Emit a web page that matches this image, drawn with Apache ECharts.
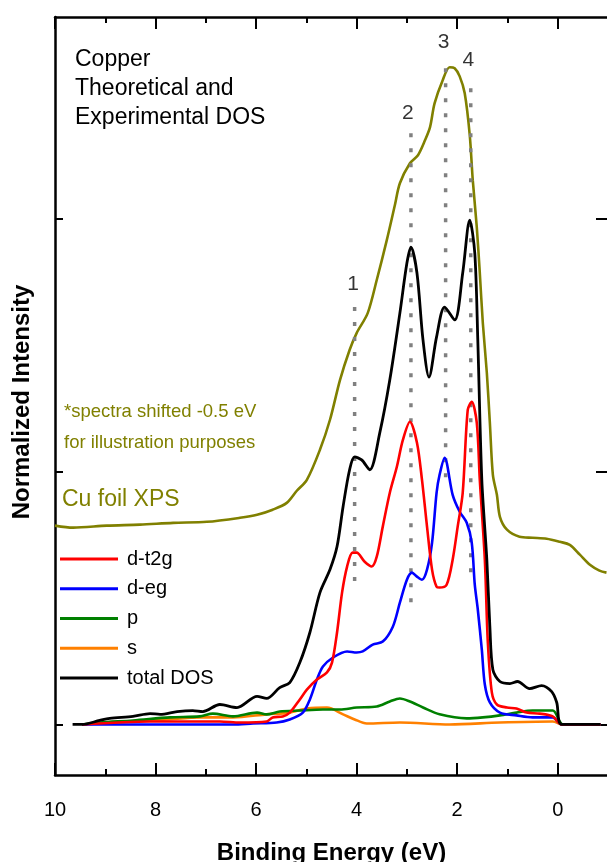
<!DOCTYPE html>
<html>
<head>
<meta charset="utf-8">
<script src="https://cdn.jsdelivr.net/npm/echarts@6/dist/echarts.min.js"></script>
<style>
  html, body { margin: 0; padding: 0; background: #fff; }
  #chart { width: 607px; height: 862px; }
</style>
</head>
<body>
<div id="chart"></div>
<script>
// binding energy (eV) / normalized intensity pairs
const totalDos = [
  [9.65, 0], [9.46, 0], [9.11, 0.016], [8.91, 0.024], [8.45, 0.032], [8.11, 0.043], [7.91, 0.040],
  [7.57, 0.051], [7.26, 0.055], [7.06, 0.051], [6.72, 0.079], [6.38, 0.067], [5.98, 0.111],
  [5.79, 0.103], [5.53, 0.146], [5.33, 0.166], [5.13, 0.245], [4.93, 0.364], [4.73, 0.522],
  [4.53, 0.613], [4.39, 0.704], [4.27, 0.862], [4.14, 1.008], [4.04, 1.059], [3.90, 1.047],
  [3.74, 1.008], [3.54, 1.154], [3.34, 1.364], [3.14, 1.628], [3.00, 1.826], [2.92, 1.889],
  [2.80, 1.787], [2.68, 1.522], [2.56, 1.375], [2.41, 1.534], [2.25, 1.652], [2.05, 1.601],
  [1.89, 1.787], [1.75, 1.996], [1.65, 1.866], [1.59, 1.522], [1.51, 0.968], [1.41, 0.652],
  [1.35, 0.387], [1.29, 0.217], [1.15, 0.170], [0.95, 0.162], [0.80, 0.170], [0.56, 0.142],
  [0.32, 0.154], [0.12, 0.130], [0.02, 0.087], [-0.08, 0], [-0.85, 0]
]
const dT2g = [
  [9.46, 0], [8.11, 0.012], [6.72, 0.012], [6.32, 0.008], [5.79, 0.012], [5.67, 0.028],
  [5.47, 0.032], [5.33, 0.047], [5.13, 0.099], [4.99, 0.138], [4.79, 0.178], [4.59, 0.206],
  [4.49, 0.245], [4.39, 0.364], [4.29, 0.522], [4.19, 0.625], [4.08, 0.680], [4.00, 0.680],
  [3.84, 0.644], [3.70, 0.625], [3.60, 0.664], [3.48, 0.783], [3.34, 0.917], [3.20, 1.020],
  [3.08, 1.126], [2.94, 1.198], [2.80, 1.115], [2.70, 0.968], [2.60, 0.783], [2.50, 0.613],
  [2.41, 0.545], [2.35, 0.542], [2.21, 0.553], [2.09, 0.652], [1.99, 0.783], [1.89, 0.917],
  [1.79, 1.245], [1.71, 1.277], [1.61, 1.194], [1.55, 0.968], [1.45, 0.652], [1.39, 0.324],
  [1.31, 0.126], [1.21, 0.079], [1.01, 0.067], [0.82, 0.063], [0.62, 0.047], [0.36, 0.043],
  [0.10, 0.032], [-0.08, 0], [-0.85, 0]
]
const dEg = [
  [9.46, 0], [6.46, 0], [6.06, 0.004], [5.59, 0.008], [5.33, 0.020], [5.07, 0.047], [4.93, 0.099],
  [4.79, 0.178], [4.67, 0.229], [4.47, 0.265], [4.19, 0.289], [4.00, 0.285], [3.88, 0.289],
  [3.68, 0.316], [3.48, 0.328], [3.28, 0.387], [3.14, 0.482], [3.00, 0.573], [2.90, 0.601],
  [2.80, 0.585], [2.70, 0.573], [2.60, 0.613], [2.50, 0.719], [2.41, 0.917], [2.35, 0.988],
  [2.25, 1.055], [2.09, 0.909], [1.95, 0.842], [1.81, 0.798], [1.71, 0.719], [1.65, 0.553],
  [1.59, 0.455], [1.51, 0.296], [1.45, 0.158], [1.35, 0.087], [1.15, 0.047], [0.82, 0.036],
  [0.50, 0.028], [0.10, 0.028], [-0.08, 0], [-0.85, 0]
]
const pDos = [
  [9.46, 0], [9.11, 0.008], [8.45, 0.016], [7.71, 0.028], [7.12, 0.032], [6.86, 0.043],
  [6.46, 0.032], [5.98, 0.047], [5.79, 0.040], [5.53, 0.051], [5.13, 0.055], [4.67, 0.059],
  [4.33, 0.059], [4.00, 0.067], [3.60, 0.071], [3.34, 0.091], [3.14, 0.103], [2.94, 0.091],
  [2.68, 0.067], [2.35, 0.040], [1.81, 0.024], [1.49, 0.028], [1.15, 0.036], [0.82, 0.047],
  [0.50, 0.055], [0.10, 0.055], [-0.04, 0.012], [-0.10, 0], [-0.85, 0]
]
const sDos = [
  [9.46, 0], [8.45, 0.012], [7.77, 0.020], [7.12, 0.028], [6.46, 0.028], [5.79, 0.040],
  [5.33, 0.047], [4.99, 0.063], [4.59, 0.067], [4.27, 0.040], [4.04, 0.020], [3.80, 0.004],
  [3.14, 0.008], [2.15, 0], [1.15, 0.008], [0.10, 0.012], [-0.10, 0], [-0.85, 0]
]
const cuFoilXps = [
  [10.0, 0.787], [9.64, 0.779], [8.97, 0.787], [8.31, 0.791], [7.65, 0.798], [6.98, 0.802],
  [6.32, 0.818], [5.98, 0.830], [5.67, 0.850], [5.39, 0.877], [5.19, 0.925], [4.99, 0.968],
  [4.73, 1.087], [4.53, 1.206], [4.33, 1.364], [4.14, 1.482], [4.00, 1.549], [3.78, 1.628],
  [3.60, 1.759], [3.40, 1.917], [3.24, 2.055], [3.14, 2.142], [2.94, 2.221], [2.78, 2.253],
  [2.64, 2.312], [2.54, 2.364], [2.45, 2.458], [2.29, 2.549], [2.15, 2.601], [2.05, 2.597],
  [1.95, 2.565], [1.85, 2.498], [1.75, 2.332], [1.69, 2.154], [1.61, 1.968], [1.55, 1.787],
  [1.49, 1.589], [1.41, 1.391], [1.35, 1.194], [1.29, 0.988], [1.21, 0.909], [1.15, 0.822],
  [1.01, 0.771], [0.76, 0.743], [0.50, 0.739], [0.22, 0.735], [-0.04, 0.723], [-0.24, 0.711],
  [-0.44, 0.672], [-0.64, 0.632], [-0.83, 0.609], [-0.97, 0.601]
]

// dotted peak markers 1..4
const peakNames = ['1', '2', '3', '4']
const peakX = [4.04, 2.92, 2.23, 1.73]
const peakTop = [1.652, 2.34, 2.597, 2.518]
const peakBottom = [0.561, 0.466, 0.968, 0.585]
const peakLabelX = [4.07, 2.98, 2.27, 1.78]
const peakLabelY = [1.743, 2.419, 2.700, 2.628]

const majorTicks = [0, 2, 4, 6, 8, 10]
const minorTicks = [1, 3, 5, 7, 9]
const yTicks = [0, 1, 2]

const FONT = '"Liberation Sans", Arial, sans-serif'
const chart = echarts.init(document.getElementById('chart'))

function xAx (pos, ticks, len, main) {
  return {
    type: 'value',
    position: pos,
    inverse: true,
    min: -1,
    max: 10,
    name: main && pos === 'bottom' ? 'Binding Energy (eV)' : '',
    nameLocation: 'middle',
    nameGap: 66,
    nameTextStyle: { fontFamily: FONT, fontSize: 24, fontWeight: 'bold', color: '#000' },
    axisLine: { show: main, onZero: false, lineStyle: { color: '#000', width: 2.5 } },
    axisTick: { show: true, inside: true, length: len, customValues: ticks, lineStyle: { color: '#000', width: 2 } },
    axisLabel: {
      show: main && pos === 'bottom',
      customValues: ticks,
      margin: 25,
      fontFamily: FONT,
      fontSize: 20,
      color: '#000'
    },
    splitLine: { show: false }
  }
}

function yAx (pos, len, main) {
  return {
    type: 'value',
    position: pos,
    min: -0.2,
    max: 2.8,
    name: main ? 'Normalized Intensity' : '',
    nameLocation: 'middle',
    nameGap: 21,
    nameTextStyle: { fontFamily: FONT, fontSize: 24, fontWeight: 'bold', color: '#000', padding: [0, 12, 0, 0] },
    axisLine: { show: true, onZero: false, lineStyle: { color: '#000', width: 2.5 } },
    axisTick: { show: true, inside: true, length: len, customValues: yTicks, lineStyle: { color: '#000', width: 2 } },
    axisLabel: { show: false },
    splitLine: { show: false }
  }
}

function line (name, data, color, width) {
  return {
    name,
    type: 'line',
    data,
    smooth: 0.3,
    symbol: 'none',
    silent: true,
    lineStyle: { color, width },
    itemStyle: { color }
  }
}

const guideSeries = peakX.map((x, i) => ({
  type: 'line',
  data: [[x, peakTop[i]], [x, peakBottom[i]]],
  symbol: 'none',
  silent: true,
  lineStyle: { color: '#808080', width: 3.5, type: [4, 11], cap: 'butt' }
}))

const option = {
  animation: false,
  backgroundColor: '#fff',
  grid: { left: 55, right: -1, top: 17, bottom: 87, outerBoundsMode: 'none', containLabel: false },
  xAxis: [
    xAx('bottom', majorTicks, 12, true),
    xAx('bottom', minorTicks, 6, false),
    xAx('top', majorTicks, 12, true),
    xAx('top', minorTicks, 6, false)
  ],
  yAxis: [
    yAx('left', 8, true),
    yAx('right', 12, false)
  ],
  legend: {
    data: ['d-t2g', 'd-eg', 'p', 's', 'total DOS'],
    orient: 'vertical',
    left: 60,
    top: 549,
    padding: 0,
    icon: 'rect',
    itemWidth: 58,
    itemHeight: 3,
    itemGap: 9.75,
    selectedMode: false,
    textStyle: { fontFamily: FONT, fontSize: 20, lineHeight: 20, color: '#000', padding: [0, 0, 0, 4] }
  },
  graphic: [
    {
      type: 'text',
      x: 75,
      y: 45.5,
      style: {
        text: 'Copper\nTheoretical and\nExperimental DOS',
        fontFamily: FONT,
        fontSize: 23,
        lineHeight: 29,
        fill: '#000',
        verticalAlign: 'top'
      }
    },
    {
      type: 'text',
      x: 64,
      y: 396.5,
      style: {
        text: '*spectra shifted -0.5 eV\nfor illustration purposes',
        fontFamily: FONT,
        fontSize: 18.5,
        lineHeight: 31,
        fill: '#808000',
        verticalAlign: 'top'
      }
    },
    {
      type: 'text',
      x: 62,
      y: 486,
      style: {
        text: 'Cu foil XPS',
        fontFamily: FONT,
        fontSize: 23,
        lineHeight: 28,
        fill: '#808000',
        verticalAlign: 'top'
      }
    }
  ],
  series: [
    line('Cu foil XPS', cuFoilXps, '#808000', 2.6),
    ...guideSeries,
    line('s', sDos, '#ff8000', 2.6),
    line('p', pDos, '#008000', 2.6),
    line('d-eg', dEg, '#0000ff', 2.6),
    line('d-t2g', dT2g, '#ff0000', 2.6),
    line('total DOS', totalDos, '#000000', 2.8),
    {
      type: 'scatter',
      data: peakNames.map((n, i) => ({ name: n, value: [peakLabelX[i], peakLabelY[i]] })),
      symbolSize: 0,
      silent: true,
      label: {
        show: true,
        position: 'inside',
        formatter: p => p.name,
        fontFamily: FONT,
        fontSize: 21,
        color: '#000'
      }
    }
  ]
}

chart.setOption(option)
</script>
</body>
</html>
